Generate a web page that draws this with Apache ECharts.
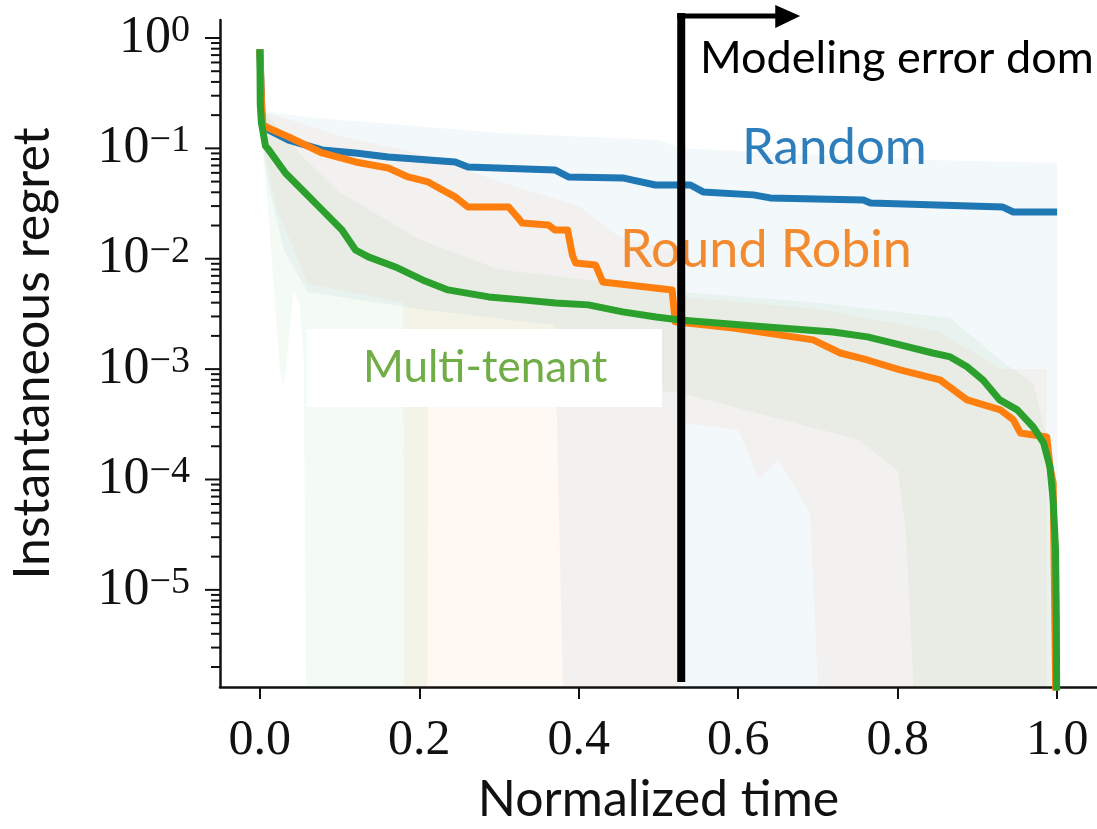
<!DOCTYPE html>
<html>
<head>
<meta charset="utf-8">
<script src="https://cdn.jsdelivr.net/npm/echarts@6/dist/echarts.min.js"></script>
<style>
  html, body { margin: 0; padding: 0; background: #ffffff; }
  #chart { width: 1097px; height: 829px; }
</style>
</head>
<body>
<div id="chart"></div>
<script>
// ---- axis ranges -------------------------------------------------------
const X_MIN = -0.05, X_MAX = 1.05;
const Y_MIN = Math.pow(10, -5.88), Y_MAX = Math.pow(10, 0.163);
const FLOOR = 1e-7;                 // below the visible axis range
const xTickValues = [0, 0.2, 0.4, 0.6, 0.8, 1.0];
const yMajorTicks = [1e-5, 1e-4, 1e-3, 1e-2, 1e-1, 1];

// ---- mean curves -------------------------------------------------------
const randomX = [0, 0.003, 0.0107, 0.036, 0.078, 0.120, 0.161, 0.245, 0.261, 0.370, 0.387, 0.455, 0.496, 0.540, 0.556, 0.619, 0.640, 0.757, 0.766, 0.932, 0.945, 1.0];
const randomY = [0.79, 0.165, 0.147, 0.119, 0.0968, 0.0908, 0.0836, 0.0753, 0.0679, 0.0637, 0.0551, 0.0540, 0.0466, 0.0466, 0.0403, 0.0379, 0.0356, 0.0341, 0.0320, 0.0294, 0.0265, 0.0265];

const robinX = [0, 0.003, 0.0107, 0.036, 0.078, 0.120, 0.161, 0.186, 0.211, 0.229, 0.245, 0.261, 0.312, 0.324, 0.329, 0.362, 0.370, 0.386, 0.392, 0.396, 0.421, 0.430, 0.517, 0.521, 0.594, 0.694, 0.728, 0.762, 0.803, 0.853, 0.870, 0.887, 0.929, 0.945, 0.954, 0.987, 0.991, 0.995, 1.0];
const robinY = [0.79, 0.165, 0.153, 0.127, 0.0908, 0.0753, 0.0664, 0.0551, 0.0496, 0.0420, 0.0363, 0.0294, 0.0294, 0.0234, 0.0211, 0.0202, 0.0182, 0.0182, 0.0108, 0.00916, 0.00879, 0.00616, 0.00522, 0.00268, 0.00236, 0.00184, 0.00140, 0.00121, 0.000984, 0.000798, 0.000648, 0.000526, 0.000427, 0.000347, 0.000264, 0.000243, 0.00013, 0.000093, FLOOR];

const tenantX = [0, 0.0005, 0.002, 0.007, 0.0107, 0.032, 0.057, 0.078, 0.103, 0.120, 0.136, 0.170, 0.204, 0.236, 0.287, 0.329, 0.371, 0.412, 0.455, 0.497, 0.527, 0.636, 0.719, 0.762, 0.803, 0.844, 0.866, 0.887, 0.907, 0.928, 0.950, 0.970, 0.983, 0.991, 0.995, 0.998, 0.999, 1.0];
const tenantY = [0.79, 0.25, 0.17, 0.105, 0.098, 0.0599, 0.0394, 0.0277, 0.0182, 0.0120, 0.0104, 0.00843, 0.00643, 0.00522, 0.00451, 0.00424, 0.00398, 0.00382, 0.00330, 0.00297, 0.00279, 0.00241, 0.00217, 0.00196, 0.00166, 0.00140, 0.00129, 0.00105, 0.000798, 0.000526, 0.000427, 0.000299, 0.000215, 0.00013, 0.000065, 0.000023, 0.0000057, FLOOR];

// ---- spread bands (upper / lower envelopes) ---------------------------
const randomUpX = [0, 0.06, 0.15, 0.3, 0.5, 0.53, 0.7, 0.85, 1.0];
const randomUp  = [0.22, 0.19, 0.17, 0.138, 0.119, 0.10, 0.087, 0.078, 0.074];
const randomLoX = [0, 0.01, 0.03, 0.06, 0.2, 0.37, 0.38, 1.0];
const randomLo  = [0.15, 0.05, 0.012, 0.005, 0.0035, 0.0025, FLOOR, FLOOR];

const robinUpX = [0, 0.05, 0.1, 0.2, 0.3, 0.4, 0.45, 0.52, 0.53, 0.7, 0.85, 0.93, 0.987];
const robinUp  = [0.22, 0.17, 0.13, 0.09, 0.05, 0.03, 0.016, 0.012, 0.0045, 0.0035, 0.0022, 0.001, 0.001];
const robinLoX = [0, 0.02, 0.06, 0.18, 0.181, 0.528, 0.529, 0.6, 0.615, 0.625, 0.65, 0.69, 0.70, 0.987];
const robinLo  = [0.15, 0.03, 0.006, 0.004, FLOOR, FLOOR, 3.3e-4, 2.8e-4, 1.6e-4, 1.0e-4, 1.5e-4, 5e-5, FLOOR, FLOOR];

const tenantUpX = [0, 0.01, 0.05, 0.1, 0.2, 0.3, 0.45, 0.53, 0.7, 0.866, 0.928, 0.97, 0.987, 0.995, 1.0];
const tenantUp  = [0.22, 0.2, 0.09, 0.04, 0.015, 0.008, 0.006, 0.005, 0.004, 0.0029, 0.00122, 0.00075, 0.00024, 5e-5, FLOOR];
const tenantLoX = [0, 0.01, 0.025, 0.03, 0.042, 0.05, 0.055, 0.058, 0.21, 0.211, 0.53, 0.75, 0.8, 0.81, 0.82, 1.0];
const tenantLo  = [0.2, 0.03, 1e-3, 7e-4, 5e-3, 4e-3, 1.2e-3, FLOOR, FLOOR, 1.2e-3, 6e-4, 2.3e-4, 1.2e-4, 3.6e-5, FLOOR, FLOOR];

// start of the "modeling error dominates" region
const REGION_X = 0.5285;

// ---- colours -----------------------------------------------------------
const C_BLUE = '#1f77b4', C_ORANGE = '#ff7f0e', C_GREEN = '#2ca02c';

const zip = (xs, ys) => xs.map((x, i) => [x, ys[i]]);

// minor ticks at 2..9 x 10^k inside the visible range
const yMinorTicks = [];
for (let e = -6; e <= 0; e++) {
  for (let k = 2; k <= 9; k++) {
    const v = k * Math.pow(10, e);
    if (v >= Y_MIN && v <= Y_MAX) yMinorTicks.push(v);
  }
}

function bandSeries(name, upX, up, loX, lo, fill) {
  const pts = zip(upX, up).concat(zip(loX, lo).reverse());
  return {
    type: 'custom', name: name, coordinateSystem: 'cartesian2d',
    clip: true, silent: true, z: 1,
    data: pts, encode: { x: 0, y: 1 },
    renderItem: function (params, api) {
      if (params.dataIndex !== 0) return null;
      const cs = params.coordSys;
      const bottom = cs.y + cs.height;
      const poly = pts.map(p => {
        const c = api.coord(p);
        return [c[0], Math.min(c[1], bottom)];
      });
      return { type: 'polygon', shape: { points: poly }, style: { fill: fill } };
    }
  };
}

function lineSeries(name, xs, ys, color, z) {
  return {
    type: 'line', name: name, data: zip(xs, ys), showSymbol: false, symbol: 'none',
    clip: true, silent: true, z: z,
    lineStyle: { color: color, width: 7, join: 'round', cap: 'butt' }
  };
}

// y-axis ticks (major + minor), drawn outward from the axis line
const tickData = yMajorTicks.map(v => [X_MIN, v, 1]).concat(yMinorTicks.map(v => [X_MIN, v, 0]));
const tickSeries = {
  type: 'custom', name: 'yticks', coordinateSystem: 'cartesian2d', clip: false, silent: true, z: 5,
  data: tickData, encode: { x: 0, y: 1 },
  renderItem: function (params, api) {
    const p = api.coord([api.value(0), api.value(1)]);
    const len = api.value(2) ? 15 : 9;
    return {
      type: 'line',
      shape: { x1: p[0] - len, y1: p[1], x2: p[0], y2: p[1] },
      style: { stroke: '#111111', lineWidth: 2 }
    };
  }
};

const SERIF = "'Liberation Serif', 'DejaVu Serif', serif";
const SANS = "Lato, 'Open Sans', sans-serif";

const chart = echarts.init(document.getElementById('chart'), null, { renderer: 'canvas' });

chart.setOption({
  animation: false,
  backgroundColor: '#ffffff',
  grid: { left: 220, right: 0, top: 20, bottom: 142, containLabel: false, outerBoundsMode: 'none' },
  xAxis: {
    type: 'value', min: X_MIN, max: X_MAX,
    name: 'Normalized time', nameLocation: 'middle', nameGap: 88,
    nameTextStyle: { fontFamily: SANS, fontSize: 50, color: '#111111' },
    axisLine: { onZero: false, lineStyle: { color: '#111111', width: 2.5 } },
    axisTick: { show: true, length: 12, customValues: xTickValues, lineStyle: { color: '#111111', width: 2 } },
    axisLabel: {
      customValues: xTickValues, margin: 29,
      fontFamily: SERIF, fontSize: 50, color: '#111111',
      formatter: v => v.toFixed(1)
    },
    splitLine: { show: false }
  },
  yAxis: {
    type: 'log', logBase: 10, min: Y_MIN, max: Y_MAX, splitNumber: 6,
    name: 'Instantaneous regret', nameLocation: 'middle', nameGap: 162, nameRotate: 90,
    nameTextStyle: { fontFamily: SANS, fontSize: 50, color: '#111111' },
    axisLine: { onZero: false, lineStyle: { color: '#111111', width: 2.5 } },
    axisTick: { show: false },
    axisLabel: {
      margin: 30, showMinLabel: false, showMaxLabel: false,
      formatter: function (v) {
        const l = Math.log10(v), e = Math.round(l);
        if (Math.abs(l - e) > 1e-6) return '';
        return '{b|10}{s|' + (e < 0 ? '\u2212' + (-e) : String(e)) + '}';
      },
      rich: {
        b: { fontFamily: SERIF, fontSize: 52, color: '#111111', lineHeight: 52 },
        s: { fontFamily: SERIF, fontSize: 38, color: '#111111', lineHeight: 36, verticalAlign: 'top' }
      }
    },
    splitLine: { show: false }
  },
  series: [
    bandSeries('Random band', randomUpX, randomUp, randomLoX, randomLo, 'rgba(31,119,180,0.055)'),
    bandSeries('Round Robin band', robinUpX, robinUp, robinLoX, robinLo, 'rgba(255,127,14,0.05)'),
    bandSeries('Multi-tenant band', tenantUpX, tenantUp, tenantLoX, tenantLo, 'rgba(44,160,44,0.05)'),
    lineSeries('Random', randomX, randomY, C_BLUE, 3),
    lineSeries('Round Robin', robinX, robinY, C_ORANGE, 4),
    lineSeries('Multi-tenant', tenantX, tenantY, C_GREEN, 5),
    tickSeries
  ]
});

// annotations: curve names, label box and the region arrow
const ax = chart.convertToPixel({ xAxisIndex: 0 }, REGION_X);
chart.setOption({
  graphic: [
    { type: 'rect', z: 50, shape: { x: 307, y: 329, width: 355, height: 78 }, style: { fill: '#ffffff' } },
    { type: 'text', z: 60, style: { x: 363, y: 368, text: 'Multi-tenant', font: '44px ' + SANS, fill: '#70ad47', verticalAlign: 'middle' } },
    { type: 'text', z: 60, style: { x: 742, y: 148, text: 'Random', font: '51px ' + SANS, fill: '#2e7ebc', verticalAlign: 'middle' } },
    { type: 'text', z: 60, style: { x: 620, y: 250, text: 'Round Robin', font: '52px ' + SANS, fill: '#f28a30', verticalAlign: 'middle' } },
    { type: 'text', z: 60, style: { x: 700, y: 58, text: 'Modeling error dom', font: '45px ' + SANS, fill: '#000000', verticalAlign: 'middle' } },
    { type: 'line', z: 70, shape: { x1: ax, y1: 682, x2: ax, y2: 13 }, style: { stroke: '#000000', lineWidth: 8 } },
    { type: 'line', z: 70, shape: { x1: ax - 4, y1: 16, x2: ax + 96, y2: 16 }, style: { stroke: '#000000', lineWidth: 5 } },
    { type: 'polygon', z: 70, shape: { points: [[ax + 94, 5], [ax + 119, 16], [ax + 94, 28]] }, style: { fill: '#000000' } }
  ]
});
</script>
</body>
</html>
